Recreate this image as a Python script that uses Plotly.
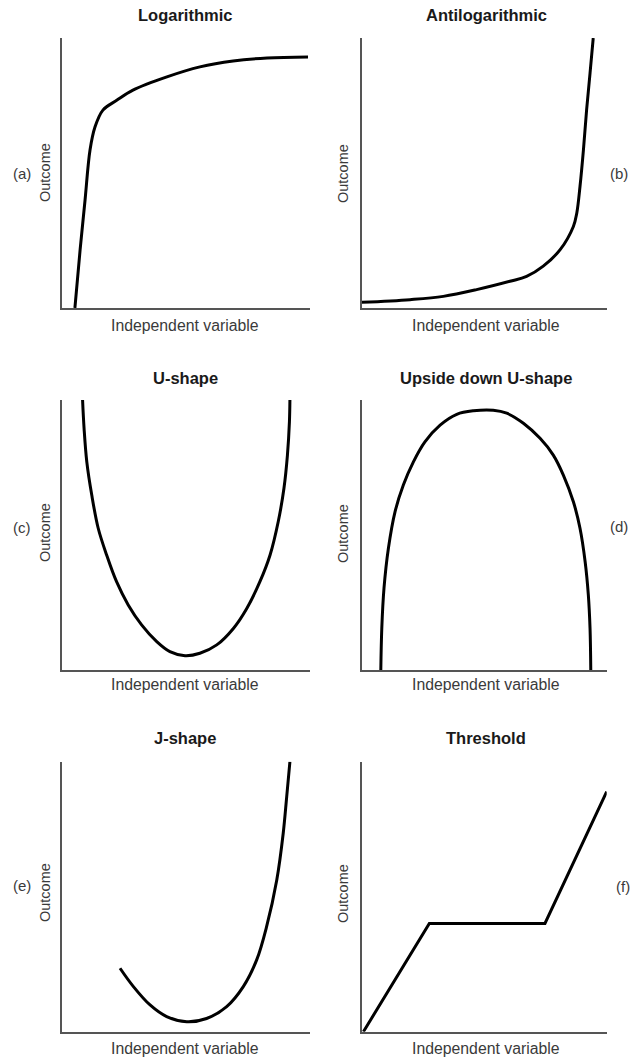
import plotly.graph_objects as go

W, H = 630, 1059

# ---- data (x: independent variable 0-100, y: outcome 0-100) ----
log_x = [5.2, 7.3, 9.3, 11.3, 13.3, 16.5, 22.2, 28.6, 42.3, 55.6, 69.0, 82.7, 99.2]
log_y = [0, 21.5, 40, 58.5, 67, 73.3, 77, 80.7, 85.6, 89.3, 91.5, 92.6, 93]

antilog_x = [0, 19.7, 33.3, 46.9, 60.5, 67.3, 74.1, 81.0, 86.4, 87.8, 89.1, 90.5, 91.8, 93.2, 94.5]
antilog_y = [2.1, 3.1, 4.3, 6.8, 9.9, 11.7, 15.5, 21.6, 30.2, 35.2, 45, 58.6, 73.4, 87, 100]

u_x = [8.3, 8.9, 10.0, 12.0, 14.6, 18.0, 22.0, 26.7, 32.1, 38.2, 43.5, 49.6, 55.6, 62.4,
       69.1, 74.5, 79.8, 83.9, 87.2, 89.5, 90.9, 91.7, 91.9]
u_y = [100, 89.5, 77.1, 64.8, 52.5, 42.6, 32.7, 24.1, 16.7, 10.5, 6.8, 5.3, 6.2, 9.3,
       15.4, 22.8, 32.7, 42.6, 55.0, 67.3, 79.6, 91.9, 100]

inv_u_x = [7.8, 8.2, 9.1, 10.9, 13.6, 17.0, 21.1, 25.8, 32.0, 38.8, 45.6, 53.7, 59.2, 66.0,
           72.8, 78.2, 82.3, 86.4, 89.1, 91.2, 92.5, 93.2, 93.5]
inv_u_y = [0, 15.4, 30.3, 45.1, 58.6, 68.5, 77.1, 84.5, 90.7, 94.7, 96.0, 96.2, 95.1, 91.4,
           85.8, 79.6, 72.2, 62.3, 52.5, 40.1, 27.8, 15.4, 0]

j_x = [23.4, 28.8, 35.5, 42.2, 50.3, 58.3, 66.4, 73.1, 78.5, 82.5, 86.6, 89.2, 90.6, 91.9]
j_y = [23.5, 16.7, 9.9, 5.6, 3.7, 4.9, 9.3, 16.7, 26.6, 38.9, 56.2, 73.5, 87, 100]

thr_x = [0.7, 27.6, 74.8, 100]
thr_y = [0, 40.1, 40.1, 88.9]

titles = ["Logarithmic", "Antilogarithmic", "U-shape", "Upside down U-shape", "J-shape", "Threshold"]
letters = ["(a)", "(b)", "(c)", "(d)", "(e)", "(f)"]
xlabel = "Independent variable"
ylabel = "Outcome"

series = [(log_x, log_y, "spline"), (antilog_x, antilog_y, "spline"), (u_x, u_y, "spline"),
          (inv_u_x, inv_u_y, "spline"), (j_x, j_y, "spline"), (thr_x, thr_y, "linear")]

# ---- layout geometry (pixels) ----
col_x = [(62, 310), (361.7, 606.7)]
row_y = [(38, 308), (400, 670), (761.7, 1031.7)]
title_cx = [185, 486]
title_cy = [15, 378, 738]
xlab_cy = [325, 685, 1048]
ylab_cx = [45, 343]
ylab_cy = [173, 533, 893]
letter_pos = [(22, 173), (619, 173), (22, 528), (619, 527), (22, 885), (623, 887)]

def px(x):
    return x / W

def py(y):
    return 1 - y / H

fig = go.Figure()
annotations = []
FONT = "Liberation Sans, Arial, sans-serif"

for i, (xs, ys, shape) in enumerate(series):
    r, c = divmod(i, 2)
    n = "" if i == 0 else str(i + 1)
    x0, x1 = col_x[c]
    y0, y1 = row_y[r]
    fig.add_trace(go.Scatter(x=xs, y=ys, mode="lines",
                             line=dict(color="black", width=3, shape=shape, smoothing=1.0),
                             xaxis="x" + n, yaxis="y" + n, showlegend=False, hoverinfo="skip"))
    fig.update_layout({
        "xaxis" + n: dict(domain=[px(x0), px(x1)], range=[0, 100], showline=True, linecolor="#555",
                          linewidth=1.5, showgrid=False, zeroline=False, showticklabels=False,
                          ticks="", anchor="y" + n, fixedrange=True),
        "yaxis" + n: dict(domain=[py(y1), py(y0)], range=[0, 100], showline=True, linecolor="#555",
                          linewidth=1.5, showgrid=False, zeroline=False, showticklabels=False,
                          ticks="", anchor="x" + n, fixedrange=True),
    })
    annotations.append(dict(x=px(title_cx[c]), y=py(title_cy[r]), xref="paper", yref="paper",
                            text="<b>" + titles[i] + "</b>", showarrow=False,
                            font=dict(family=FONT, size=16.5, color="#1a1a1a"),
                            xanchor="center", yanchor="middle"))
    annotations.append(dict(x=px(title_cx[c]), y=py(xlab_cy[r]), xref="paper", yref="paper",
                            text=xlabel, showarrow=False,
                            font=dict(family=FONT, size=15.8, color="#3a3a3a"),
                            xanchor="center", yanchor="middle"))
    annotations.append(dict(x=px(ylab_cx[c]), y=py(ylab_cy[r]), xref="paper", yref="paper",
                            text=ylabel, showarrow=False, textangle=-90,
                            font=dict(family=FONT, size=14.5, color="#3a3a3a"),
                            xanchor="center", yanchor="middle"))
    lx, ly = letter_pos[i]
    annotations.append(dict(x=px(lx), y=py(ly), xref="paper", yref="paper",
                            text=letters[i], showarrow=False,
                            font=dict(family=FONT, size=15, color="#3a3a3a"),
                            xanchor="center", yanchor="middle"))

fig.update_layout(width=W, height=H, margin=dict(l=0, r=0, t=0, b=0),
                  paper_bgcolor="white", plot_bgcolor="white",
                  annotations=annotations)

fig.write_html("out.html", config={"displayModeBar": False},
               post_script="document.body.style.margin='0';document.body.style.overflow='hidden';")
